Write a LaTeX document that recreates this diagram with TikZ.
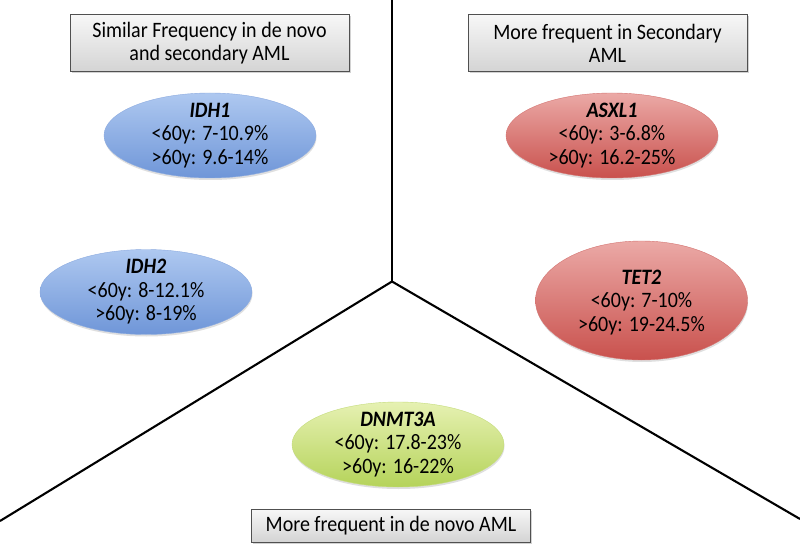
\documentclass[tikz,border=0pt]{standalone}
\usepackage{fontspec}
\setmainfont{Carlito}
\usetikzlibrary{shapes.geometric,shadows}
\definecolor{bluetop}{HTML}{AEC8F0}
\definecolor{bluebot}{HTML}{6F96D8}
\definecolor{redtop}{HTML}{EBA9A6}
\definecolor{redbot}{HTML}{C9514D}
\definecolor{greentop}{HTML}{E6F1B2}
\definecolor{greenbot}{HTML}{B5D35A}
\definecolor{boxtop}{HTML}{F7F7F7}
\definecolor{boxbot}{HTML}{D4D4D4}
\definecolor{boxline}{HTML}{505050}
\tikzset{
  x=1pt, y=1pt,
  divider/.style={line width=2.1pt, black},
  labelbox/.style={rectangle, draw=boxline, line width=0.9pt, top color=boxtop, bottom color=boxbot,
    minimum width=279pt, inner sep=0pt, align=center, yscale=1.1, transform shape,
    drop shadow={opacity=0.35, shadow xshift=1.5pt, shadow yshift=-1.5pt}},
  gene/.style={ellipse, minimum width=212pt, minimum height=85pt, inner sep=0pt,
    drop shadow={opacity=0.25, shadow xshift=0.5pt, shadow yshift=-2pt}},
  blueg/.style={gene, top color=bluetop, bottom color=bluebot, draw=bluebot!80!white, line width=0.4pt},
  redg/.style={gene, top color=redtop, bottom color=redbot, draw=redbot!80!white, line width=0.4pt},
  greeng/.style={gene, top color=greentop, bottom color=greenbot, draw=greenbot!80!white, line width=0.4pt},
  genetext/.style={align=center, inner sep=0pt, yscale=1.1, transform shape,
    font=\fontsize{20}{21.4}\selectfont, text=black},
  boxtext/.style={font=\fontsize{20}{20.9}\selectfont}
}
\begin{document}
\begin{tikzpicture}
\useasboundingbox (0,0) rectangle (800,547);
\fill[white] (0,0) rectangle (800,547);
% dividers
\coordinate (c) at (392,265.5);
\coordinate (top) at (392,547);
\coordinate (bl) at (0,26);
\coordinate (br) at (800,28);
\draw[divider] (top) -- (c);
\draw[divider, line join=miter] (bl) -- (c) -- (br);
% label boxes
\node[labelbox, minimum height=51.8pt, boxtext] (b1) at (209.5,504) {Similar Frequency in de novo\\and secondary AML};
\node[labelbox, minimum height=51.8pt, boxtext] (b2) at (607.5,504) {More frequent in Secondary\\AML};
\node[labelbox, minimum height=30pt, boxtext] (b3) at (391,21.5) {More frequent in de novo AML};
% gene ellipses
\node[blueg] (e1) at (210,411.5) {};
\node[genetext] (t1) at (e1) {\textbf{\textit{IDH1}}\\<60y: 7-10.9\%\\>60y: 9.6-14\%};
\node[blueg] (e2) at (146,255) {};
\node[genetext] (t2) at (e2) {\textbf{\textit{IDH2}}\\<60y: 8-12.1\%\\>60y: 8-19\%};
\node[redg] (e3) at (612,411.5) {};
\node[genetext] (t3) at (e3) {\textbf{\textit{ASXL1}}\\<60y: 3-6.8\%\\>60y: 16.2-25\%};
\node[redg, minimum height=119pt] (e4) at (641.5,246.5) {};
\node[genetext] (t4) at ([yshift=-2pt]e4) {\textbf{\textit{TET2}}\\<60y: 7-10\%\\>60y: 19-24.5\%};
\node[greeng] (e5) at (398,102.5) {};
\node[genetext] (t5) at (e5) {\textbf{\textit{DNMT3A}}\\<60y: 17.8-23\%\\>60y: 16-22\%};
\end{tikzpicture}
\end{document}
